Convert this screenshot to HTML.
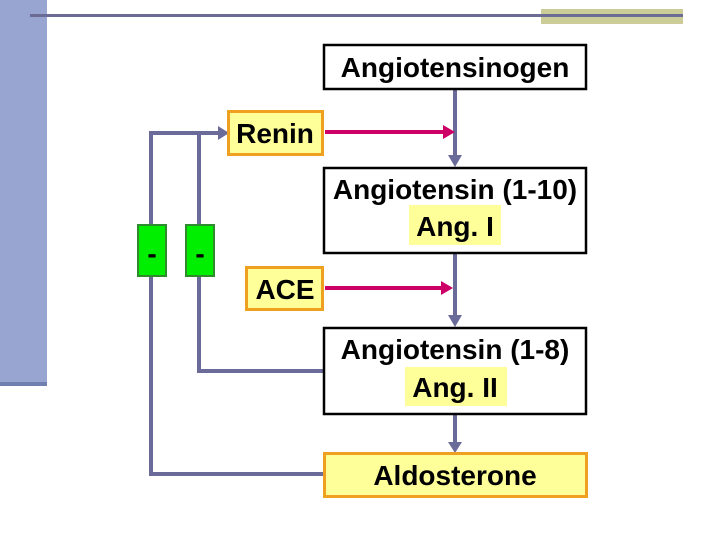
<!DOCTYPE html>
<html><head><style>
html,body{margin:0;padding:0;background:#fff}
svg{display:block}
text{font-family:"Liberation Sans",Arial,sans-serif;font-weight:bold;fill:#000}
</style></head><body>
<svg width="720" height="540" viewBox="0 0 720 540" xmlns="http://www.w3.org/2000/svg">
<rect x="0" y="0" width="47" height="386" fill="#97a5d0"/>
<rect x="0" y="382" width="47" height="4" fill="#6f7fb0"/>
<rect x="541" y="9" width="142" height="15" fill="#cccc99"/>
<rect x="30" y="14" width="653" height="3" fill="#6b6b94"/>
<g stroke="#6b6b9a" stroke-width="4" fill="none">
<polyline points="323,474 151,474 151,133 218,133"/>
<polyline points="323,371 199,371 199,133"/>
<line x1="455" y1="89" x2="455" y2="156"/>
<line x1="455" y1="253" x2="455" y2="317"/>
<line x1="455" y1="414" x2="455" y2="443"/>
</g>
<g fill="#6b6b9a">
<polygon points="218,126 229,133 218,140"/>
<polygon points="448,155 455,167 462,155"/>
<polygon points="448,315 455,327 462,315"/>
<polygon points="448,442 455,453 462,442"/>
</g>
<g stroke="#cc0066" stroke-width="4">
<line x1="325" y1="132" x2="444" y2="132"/>
<line x1="325" y1="288" x2="442" y2="288"/>
</g>
<g fill="#cc0066">
<polygon points="443,125 455,132 443,139"/>
<polygon points="441,281 453,288 441,295"/>
</g>
<rect x="138" y="225" width="28" height="51" fill="#00ee00" stroke="#2e8b2e" stroke-width="2"/>
<rect x="186" y="225" width="28" height="51" fill="#00ee00" stroke="#2e8b2e" stroke-width="2"/>
<text x="152" y="263" font-size="28" text-anchor="middle">-</text>
<text x="200" y="263" font-size="28" text-anchor="middle">-</text>
<rect x="324" y="45" width="262" height="44" fill="#fff" stroke="#000" stroke-width="2.5"/>
<text x="455" y="77" font-size="28" text-anchor="middle">Angiotensinogen</text>
<rect x="228.5" y="111.5" width="94" height="43" fill="#ffff99" stroke="#f0a020" stroke-width="3"/>
<text x="275" y="143" font-size="28" text-anchor="middle">Renin</text>
<rect x="324" y="168" width="262" height="85" fill="#fff" stroke="#000" stroke-width="2.5"/>
<text x="455" y="199" font-size="28" text-anchor="middle">Angiotensin (1-10)</text>
<rect x="409" y="205" width="92" height="40" fill="#ffff99"/>
<text x="455" y="236" font-size="28" text-anchor="middle">Ang. I</text>
<rect x="246.5" y="267.5" width="76" height="42" fill="#ffff99" stroke="#f0a020" stroke-width="3"/>
<text x="285" y="299" font-size="28" text-anchor="middle">ACE</text>
<rect x="324" y="328" width="262" height="86" fill="#fff" stroke="#000" stroke-width="2.5"/>
<text x="455" y="359" font-size="28" text-anchor="middle">Angiotensin (1-8)</text>
<rect x="405" y="367" width="102" height="39" fill="#ffff99"/>
<text x="455" y="397" font-size="28" text-anchor="middle">Ang. II</text>
<rect x="324.5" y="453.5" width="262" height="43" fill="#ffff99" stroke="#f0a020" stroke-width="3"/>
<text x="455" y="485" font-size="28" text-anchor="middle">Aldosterone</text>
</svg>
</body></html>
